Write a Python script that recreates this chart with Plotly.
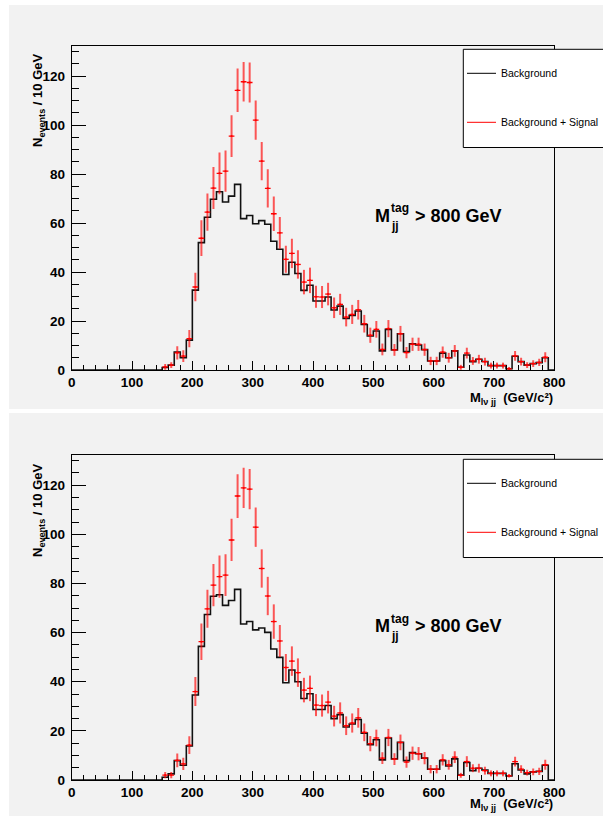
import plotly.graph_objects as go

# ---------------- data ----------------
bin_lo = list(range(150, 800, 10))  # lower bin edges, 10 GeV bins
bin_width = 10

bkg_top = [1.0, 2.0, 7.3, 5.0, 12.2, 32.6, 52.0, 62.4, 69.7, 72.8,
           68.6, 71.0, 75.8, 61.8, 63.1, 59.7, 61.0, 59.5, 52.6, 49.3,
           39.0, 44.0, 39.4, 32.5, 34.6, 28.2, 28.2, 29.8, 24.5, 26.1,
           21.1, 22.3, 24.1, 18.6, 13.9, 15.9, 7.8, 16.6, 8.2, 14.8,
           7.5, 10.7, 10.2, 8.3, 3.7, 3.7, 6.9, 5.0, 7.8, 1.1,
           6.1, 3.4, 4.4, 3.5, 1.8, 1.8, 1.8, 0.5, 5.6, 3.4,
           2.0, 2.6, 3.0, 5.0, 0.0]
sig_top = [1.3, 2.0, 7.0, 5.7, 12.8, 33.9, 53.8, 64.5, 74.3, 80.3,
           81.2, 95.5, 114.2, 117.7, 117.4, 102.0, 85.3, 74.2, 63.8, 56.0,
           45.2, 47.6, 43.1, 35.9, 36.6, 29.9, 29.8, 31.0, 25.4, 26.8,
           21.6, 22.7, 24.6, 18.9, 14.2, 16.6, 8.4, 16.9, 8.2, 14.8,
           7.1, 10.5, 10.5, 8.3, 3.7, 3.7, 7.3, 5.0, 7.8, 1.1,
           6.9, 3.7, 4.4, 3.4, 1.8, 1.8, 1.8, 0.5, 5.8, 3.4,
           2.0, 2.6, 3.1, 5.2, None]
err_top = [1.2, 1.2, 2.7, 2.4, 3.5, 5.8, 7.3, 7.6, 8.6, 8.5,
           8.4, 8.5, 8.9, 8.1, 8.2, 8.0, 7.8, 7.8, 7.0, 6.5,
           5.5, 6.0, 5.8, 5.0, 5.2, 4.5, 4.5, 4.6, 4.2, 4.3,
           3.8, 3.9, 4.0, 3.6, 3.1, 3.4, 2.4, 3.5, 2.4, 3.2,
           2.3, 2.7, 2.7, 2.5, 1.7, 1.7, 2.3, 2.0, 2.4, 1.0,
           2.2, 1.6, 1.8, 1.6, 1.2, 1.2, 1.2, 0.7, 2.0, 1.6,
           1.2, 1.4, 1.5, 2.0, 0.0]

bkg_bot = [1.1, 2.5, 7.9, 6.0, 13.9, 34.6, 54.4, 67.4, 74.8, 75.4,
           71.1, 73.1, 77.6, 63.5, 64.5, 61.1, 61.9, 60.1, 53.3, 49.9,
           39.6, 44.8, 40.0, 33.2, 35.1, 28.7, 28.7, 30.3, 25.0, 26.6,
           21.6, 22.8, 24.6, 19.1, 14.4, 16.4, 8.2, 17.1, 8.6, 15.3,
           7.9, 11.2, 10.7, 8.9, 4.4, 4.4, 7.9, 5.7, 8.6, 2.0,
           7.1, 3.8, 4.8, 4.1, 2.7, 2.7, 2.7, 1.6, 6.6, 4.1,
           2.5, 3.3, 3.5, 6.0, 0.0]
sig_bot = [2.0, 2.0, 8.0, 6.6, 14.2, 36.0, 56.3, 69.7, 79.3, 82.8,
           83.4, 97.7, 115.6, 118.9, 118.4, 102.9, 86.1, 74.9, 64.5, 56.6,
           45.8, 48.4, 43.7, 36.6, 37.3, 30.5, 30.3, 31.7, 26.0, 27.3,
           22.1, 23.2, 25.3, 19.4, 14.8, 17.1, 8.9, 17.3, 8.5, 15.3,
           7.3, 10.9, 10.7, 8.9, 4.4, 4.4, 8.2, 6.2, 9.3, 1.9,
           7.5, 4.8, 4.8, 3.8, 2.7, 2.7, 2.7, 1.7, 7.5, 4.4,
           3.0, 3.3, 3.5, 6.2, None]
err_bot = [1.3, 1.3, 2.8, 2.5, 3.6, 5.9, 7.4, 7.7, 8.6, 8.6,
           8.5, 8.6, 8.9, 8.2, 8.2, 8.0, 7.8, 7.8, 7.0, 6.5,
           5.5, 6.0, 5.8, 5.0, 5.2, 4.5, 4.5, 4.6, 4.2, 4.3,
           3.8, 3.9, 4.0, 3.6, 3.1, 3.4, 2.4, 3.5, 2.4, 3.2,
           2.3, 2.7, 2.7, 2.5, 1.7, 1.7, 2.3, 2.0, 2.4, 1.0,
           2.2, 1.6, 1.8, 1.6, 1.2, 1.2, 1.2, 0.7, 2.0, 1.6,
           1.2, 1.4, 1.5, 2.0, 0.0]

x_ticks = [0, 100, 200, 300, 400, 500, 600, 700, 800]
y_ticks = [0, 20, 40, 60, 80, 100, 120]

# ---------------- layout helpers ----------------
W, H = 603, 816
def px(x):
    return x / W
def py(y):
    return (H - y) / H

BG = "#f2f2f2"
FONT = "Liberation Sans"

fig = go.Figure()

def add_panel(bkg, sig, err, xa, ya):
    xs = [0] + bin_lo + [bin_lo[-1] + bin_width]
    ys = [0] + bkg + [bkg[-1]]
    fig.add_trace(go.Scatter(
        x=xs, y=ys, mode="lines", line=dict(color="#111111", width=1.6, shape="hv"),
        xaxis=xa, yaxis=ya, showlegend=False, hoverinfo="skip"))
    centers = [b + bin_width / 2 for b in bin_lo]
    fig.add_trace(go.Scatter(
        x=centers, y=sig, mode="markers",
        marker=dict(size=2, color="red"),
        error_y=dict(type="data", array=err, visible=True, color="rgba(255,0,0,0.65)",
                     thickness=2, width=0),
        error_x=dict(type="constant", value=bin_width / 2 * 0.95, visible=True, color="red",
                     thickness=1.3, width=0),
        xaxis=xa, yaxis=ya, showlegend=False, hoverinfo="skip"))

add_panel(bkg_top, sig_top, err_top, "x", "y")
add_panel(bkg_bot, sig_bot, err_bot, "x2", "y2")

TICKFONT = dict(family=FONT, size=13.5, color="black", weight="bold")

def xaxis_cfg(anchor):
    return dict(domain=[px(71.7), px(554.3)], anchor=anchor, range=[0, 800], automargin=False,
                tickvals=x_ticks, ticks="inside", ticklen=9, tickwidth=1, tickcolor="black",
                minor=dict(ticks="inside", ticklen=5, dtick=20, tick0=0, tickcolor="black", showgrid=False),
                showline=True, mirror=True, linecolor="black", linewidth=1,
                showgrid=False, zeroline=False, tickfont=TICKFONT)

def yaxis_cfg(anchor, top, bottom):
    return dict(domain=[py(bottom), py(top)], anchor=anchor, range=[0, 132.3], automargin=False,
                tickvals=y_ticks, ticks="inside", ticklen=14, tickwidth=1, tickcolor="black",
                minor=dict(ticks="inside", ticklen=7, dtick=5, tick0=0, tickcolor="black", showgrid=False),
                showline=True, mirror=True, linecolor="black", linewidth=1,
                showgrid=False, zeroline=False, ticklabelstandoff=3, tickfont=TICKFONT)

shapes = [
    dict(type="rect", xref="paper", yref="paper", x0=px(9), x1=1, y0=py(409), y1=py(5),
         fillcolor=BG, line=dict(width=0), layer="below"),
    dict(type="rect", xref="paper", yref="paper", x0=px(9), x1=1, y0=0, y1=py(413),
         fillcolor=BG, line=dict(width=0), layer="below"),
]
annotations = []

def pline(x0, y0, x1, y1, color="black"):
    return dict(type="line", xref="paper", yref="paper", x0=px(x0), x1=px(x1),
                y0=py(y0), y1=py(y1), line=dict(color=color, width=1), layer="above")

for off, title_y in ((0, 398), (410, 804)):
    # legend box (runs off the right edge of the canvas)
    shapes.append(dict(type="rect", xref="paper", yref="paper", x0=px(463.3), x1=1,
                       y0=py(147.5 + off), y1=py(49.3 + off), fillcolor="white",
                       line=dict(width=0), layer="above"))
    shapes.append(pline(463.3, 49.3 + off, 603, 49.3 + off))
    shapes.append(pline(463.3, 147.5 + off, 603, 147.5 + off))
    shapes.append(pline(463.3, 49.3 + off, 463.3, 147.5 + off))
    shapes.append(pline(467, 73.3 + off, 496, 73.3 + off))
    shapes.append(pline(467, 122.3 + off, 496, 122.3 + off, "red"))
    annotations.append(dict(text="Background", x=px(499.3), y=py(73.3 + off), xref="paper", yref="paper",
                            xanchor="left", yanchor="middle", showarrow=False,
                            font=dict(family=FONT, size=10.5, color="black")))
    annotations.append(dict(text="Background + Signal", x=px(499.3), y=py(122.3 + off), xref="paper", yref="paper",
                            xanchor="left", yanchor="middle", showarrow=False,
                            font=dict(family=FONT, size=10.5, color="black")))
    # M_jj^tag > 800 GeV
    annotations.append(dict(text="<b>M</b>", x=px(372.5), y=py(216 + off), xref="paper", yref="paper",
                            xanchor="left", yanchor="middle", showarrow=False,
                            font=dict(family=FONT, size=18, color="black")))
    annotations.append(dict(text="<b>tag</b>", x=px(388.8), y=py(208.5 + off), xref="paper", yref="paper",
                            xanchor="left", yanchor="middle", showarrow=False,
                            font=dict(family=FONT, size=12, color="black")))
    annotations.append(dict(text="<b>jj</b>", x=px(388.8), y=py(226 + off), xref="paper", yref="paper",
                            xanchor="left", yanchor="middle", showarrow=False,
                            font=dict(family=FONT, size=12, color="black")))
    annotations.append(dict(text="<b>> 800 GeV</b>", x=px(412.5), y=py(216 + off), xref="paper", yref="paper",
                            xanchor="left", yanchor="middle", showarrow=False,
                            font=dict(family=FONT, size=18, color="black")))
    # axis titles
    annotations.append(dict(text="<b>N<sub>events</sub> / 10 GeV</b>", x=px(38), y=py(101 + off),
                            xref="paper", yref="paper", textangle=-90,
                            xanchor="center", yanchor="middle", showarrow=False,
                            font=dict(family=FONT, size=13, color="black")))
    annotations.append(dict(text="<b>M<sub>l\u03bd jj</sub>  (GeV/c\u00b2)</b>", x=px(555), y=py(title_y),
                            xref="paper", yref="paper",
                            xanchor="right", yanchor="middle", showarrow=False,
                            font=dict(family=FONT, size=13, color="black")))

fig.update_layout(
    width=W, height=H, margin=dict(l=0, r=0, t=0, b=0, pad=0, autoexpand=False),
    paper_bgcolor="white", plot_bgcolor=BG,
    xaxis=xaxis_cfg("y"), yaxis=yaxis_cfg("x", 46, 370),
    xaxis2=xaxis_cfg("y2"), yaxis2=yaxis_cfg("x2", 455, 780),
    shapes=shapes, annotations=annotations, showlegend=False,
)

fig.write_html("out.html", config={"displayModeBar": False},
               post_script="document.body.style.margin='0';document.body.style.overflow='hidden';"
                           "document.documentElement.style.overflow='hidden';")
